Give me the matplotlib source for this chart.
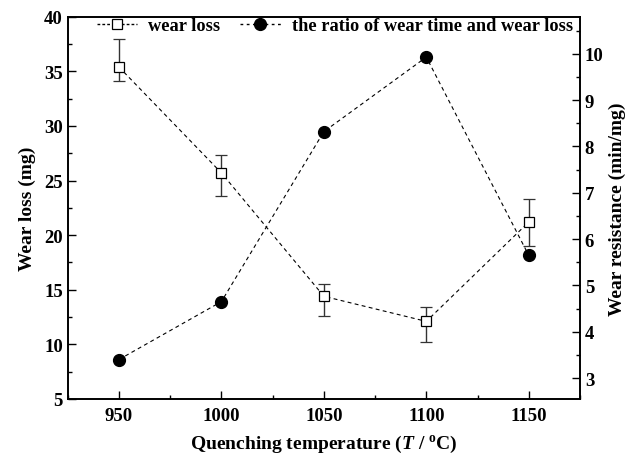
import numpy as np
import matplotlib.pyplot as plt
from matplotlib.ticker import MultipleLocator
from matplotlib.lines import Line2D

plt.rcParams['font.family'] = ['Liberation Serif', 'DejaVu Serif']
plt.rcParams['mathtext.fontset'] = 'custom'
plt.rcParams['mathtext.it'] = 'Liberation Serif:italic:bold'
plt.rcParams['mathtext.rm'] = 'Liberation Serif:bold'

# quenching temperatures (deg C)
temps = [950, 1000, 1050, 1100, 1150]
# wear loss (mg) with lower / upper error
wear_loss = [35.4, 25.7, 14.4, 12.1, 21.2]
err_low = [1.3, 2.1, 1.8, 1.9, 2.2]
err_high = [2.6, 1.6, 1.1, 1.3, 2.1]
# ratio of wear time and wear loss (min/mg)
ratio = [3.4, 4.65, 8.32, 9.93, 5.65]

fig = plt.figure(figsize=(6.27, 4.56), dpi=100)
ax = fig.add_axes([0.108, 0.123, 0.817, 0.838])
ax2 = ax.twinx()

dash = (0, (3.5, 3))
ax.errorbar(temps, wear_loss, yerr=[err_low, err_high], fmt='s', ls=dash,
            color='black', lw=0.8, mfc='white', mec='black', ms=7, mew=0.9,
            ecolor='#333333', elinewidth=1.0, capsize=4, capthick=1.0)
ax2.plot(temps, ratio, 'o', ls=dash, color='black', lw=0.8, ms=8.5)

ax.set_xlim(925, 1175)
ax.set_ylim(5, 40)
ax2.set_ylim(2.55, 10.8)

ax.xaxis.set_major_locator(MultipleLocator(50))
ax.xaxis.set_minor_locator(MultipleLocator(25))
ax.yaxis.set_major_locator(MultipleLocator(5))
ax.yaxis.set_minor_locator(MultipleLocator(2.5))
ax2.yaxis.set_major_locator(MultipleLocator(1))
ax2.yaxis.set_minor_locator(MultipleLocator(0.5))

for a in (ax, ax2):
    a.tick_params(which='both', direction='in', labelsize=13.5, top=False)
    a.tick_params(which='major', length=6, width=1)
    a.tick_params(which='minor', length=3, width=1)
    for s in a.spines.values():
        s.set_linewidth(1.2)
    for lab in a.get_xticklabels() + a.get_yticklabels():
        lab.set_fontweight('bold')
ax.tick_params(axis='y', which='both', right=False)
ax.tick_params(axis='x', pad=6)

ax.set_xlabel(r'Quenching temperature ($T$ / $^{\rm o}$C)', fontsize=14,
              fontweight='bold', labelpad=6)
ax.set_ylabel('Wear loss (mg)', fontsize=14, fontweight='bold', labelpad=6)
ax2.set_ylabel('Wear resistance (min/mg)', fontsize=14, fontweight='bold', labelpad=4)

h1 = Line2D([], [], ls=(0, (2, 1.5)), color='black', lw=1.0, marker='s',
            mfc='white', mec='black', ms=7, mew=0.9)
h2 = Line2D([], [], ls=(0, (2, 2.5)), color='black', lw=1.0, marker='o', ms=8.5)
ax.legend([h1, h2], ['wear loss', 'the ratio of wear time and wear loss'],
          loc='upper right', ncol=2, frameon=False,
          prop={'weight': 'bold', 'size': 13.2},
          bbox_to_anchor=(1.0, 1.018), handlelength=2.2, columnspacing=1.1,
          handletextpad=0.6, borderaxespad=0, borderpad=0.4)

fig.savefig('out.png', dpi=100)
